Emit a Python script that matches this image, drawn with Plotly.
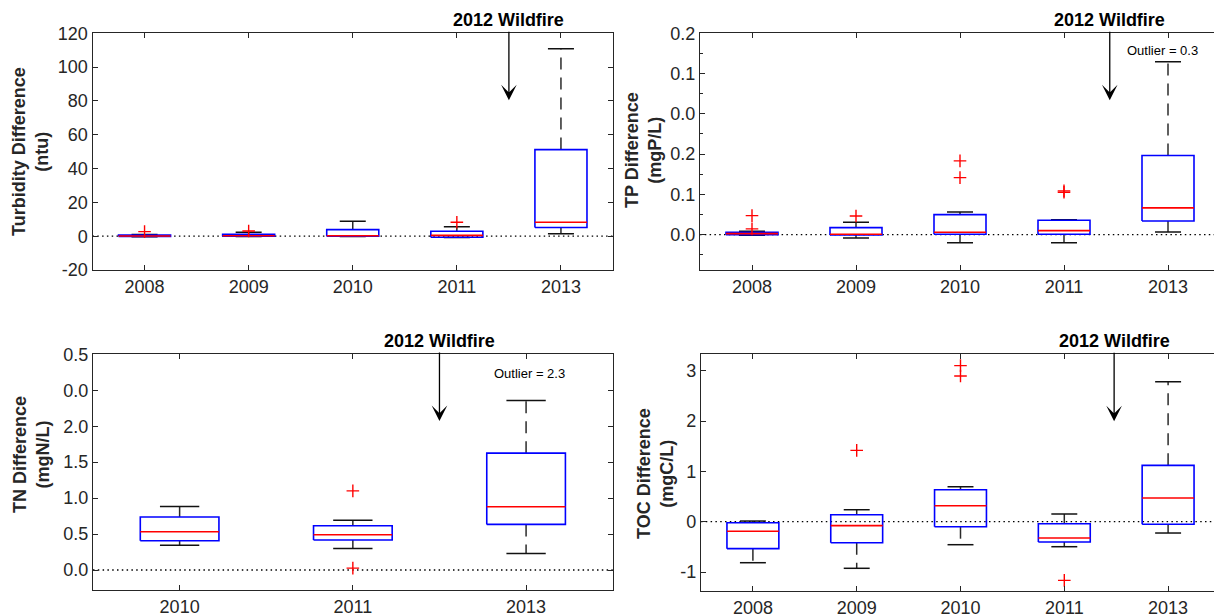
import plotly.graph_objects as go

# ---------------- data ----------------
YEARS_5 = ["2008", "2009", "2010", "2011", "2013"]
YEARS_3 = ["2010", "2011", "2013"]

# Turbidity difference (ntu)
TURB_LOW = [-0.3, -0.2, -0.2, -0.8, 1.5]
TURB_Q1 = [-0.1, 0.0, 0.0, -0.6, 5.1]
TURB_MED = [0.1, 0.3, 0.3, 0.5, 8.2]
TURB_Q3 = [0.6, 1.1, 3.9, 2.9, 51.2]
TURB_UP = [1.0, 2.3, 8.8, 5.6, 110.9]
TURB_OUT = [[2.7], [3.1], [], [8.2], []]
TURB_TICKS = [-20, 0, 20, 40, 60, 80, 100, 120]
TURB_TICKTEXT = ["-20", "0", "20", "40", "60", "80", "100", "120"]

# TP difference (mgP/L)
TP_LOW = [-0.0005, -0.0033, -0.0080, -0.0080, 0.0027]
TP_Q1 = [0.0, -0.0003, 0.0004, 0.0004, 0.0136]
TP_MED = [0.001, 0.0004, 0.0024, 0.0040, 0.0266]
TP_Q3 = [0.0024, 0.0070, 0.0199, 0.0143, 0.0786]
TP_UP = [0.0034, 0.0123, 0.0226, 0.0149, 0.1718]
TP_OUT = [[0.0057, 0.0189], [0.0186], [0.0567, 0.0733], [0.0421, 0.0435], []]
TP_TICKS = [0.0, 0.04, 0.08, 0.12, 0.16, 0.20]
TP_TICKTEXT = ["0.0", "0.1", "0.2", "0.0", "0.1", "0.2"]
TP_MINOR = [-0.02, 0.02, 0.06, 0.10, 0.14, 0.18]

# TN difference (mgN/L)
TN_LOW = [0.343, 0.298, 0.231]
TN_Q1 = [0.407, 0.417, 0.634]
TN_MED = [0.532, 0.490, 0.880]
TN_Q3 = [0.738, 0.616, 1.625]
TN_UP = [0.882, 0.692, 2.356]
TN_OUT = [[], [0.026, 1.10], []]
TN_TICKS = [0.0, 0.5, 1.0, 1.5, 2.0, 2.5, 3.0]
TN_TICKTEXT = ["0.0", "0.5", "1.0", "1.5", "2.0", "0.0", "0.5"]

# TOC difference (mgC/L)
TOC_LOW = [-0.815, -0.926, -0.457, -0.497, -0.225]
TOC_Q1 = [-0.536, -0.417, -0.099, -0.403, -0.052]
TOC_MED = [-0.19, -0.079, 0.318, -0.324, 0.471]
TOC_Q3 = [-0.02, 0.139, 0.636, -0.040, 1.12]
TOC_UP = [0.013, 0.238, 0.695, 0.153, 2.78]
TOC_OUT = [[], [1.418], [2.895, 3.10], [-1.165], []]
TOC_TICKS = [-1, 0, 1, 2, 3]
TOC_TICKTEXT = ["-1", "0", "1", "2", "3"]

WILDFIRE_X = [4.5, 4.44, 2.5, 4.48]  # 2012 position between categories

# ---------------- layout constants ----------------
W, H = 1222, 616
FONT = "Liberation Sans, Arial, Helvetica, sans-serif"
AX = "#262626"

panels = [
    dict(years=YEARS_5, low=TURB_LOW, q1=TURB_Q1, med=TURB_MED, q3=TURB_Q3, up=TURB_UP, out=TURB_OUT,
         yrange=[-20, 120], ticks=TURB_TICKS, ticktext=TURB_TICKTEXT, minor=None, half=0.25,
         xdom=[92.5, 613], ydom=[33.3, 270], title="Turbidity Difference<br>(ntu)", tpos=(31, 152),
         note=None),
    dict(years=YEARS_5, low=TP_LOW, q1=TP_Q1, med=TP_MED, q3=TP_Q3, up=TP_UP, out=TP_OUT,
         yrange=[-0.0351, 0.2], ticks=TP_TICKS, ticktext=TP_TICKTEXT, minor=TP_MINOR, half=0.25,
         xdom=[700, 1220], ydom=[33.3, 270], title="TP Difference<br>(mgP/L)", tpos=(644, 150),
         note=("Outlier = 0.3", 4.95, 0.929)),
    dict(years=YEARS_3, low=TN_LOW, q1=TN_Q1, med=TN_MED, q3=TN_Q3, up=TN_UP, out=TN_OUT,
         yrange=[-0.278, 3.0], ticks=TN_TICKS, ticktext=TN_TICKTEXT, minor=None, half=0.227,
         xdom=[93, 612.7], ydom=[354.3, 590], title="TN Difference<br>(mgN/L)", tpos=(31, 455),
         note=("Outlier = 2.3", 3.02, 0.919)),
    dict(years=YEARS_5, low=TOC_LOW, q1=TOC_Q1, med=TOC_MED, q3=TOC_Q3, up=TOC_UP, out=TOC_OUT,
         yrange=[-1.377, 3.326], ticks=TOC_TICKS, ticktext=TOC_TICKTEXT, minor=None, half=0.25,
         xdom=[701, 1220], ydom=[354.3, 591], title="TOC Difference<br>(mgC/L)", tpos=(656, 474),
         note=None),
]

fig = go.Figure()
layout = dict(
    width=W, height=H, margin=dict(l=0, r=0, t=0, b=0),
    paper_bgcolor="white", plot_bgcolor="white", showlegend=False,
    template="none", font=dict(family=FONT, color=AX),
    annotations=[], shapes=[],
)

for i, p in enumerate(panels):
    n = i + 1
    xa = "x" if n == 1 else f"x{n}"
    ya = "y" if n == 1 else f"y{n}"
    xs = list(range(1, len(p["years"]) + 1))
    h = p["half"]
    c = h / 2.0

    bx, by, mx, my, wx, wy, cx, cy, ox, oy = [], [], [], [], [], [], [], [], [], []
    for x, lo, q1, md, q3, up, outs in zip(xs, p["low"], p["q1"], p["med"], p["q3"], p["up"], p["out"]):
        bx += [x - h, x + h, x + h, x - h, x - h, None]
        by += [q1, q1, q3, q3, q1, None]
        mx += [x - h, x + h, None]
        my += [md, md, None]
        wx += [x, x, None, x, x, None]
        wy += [q3, up, None, q1, lo, None]
        cx += [x - c, x + c, None, x - c, x + c, None]
        cy += [up, up, None, lo, lo, None]
        for o in outs:
            ox.append(x)
            oy.append(o)

    common = dict(xaxis=xa, yaxis=ya, hoverinfo="skip", mode="lines")
    fig.add_trace(go.Scatter(x=wx, y=wy, line=dict(color="#2a2a2a", width=1.5, dash="12px,8px"), **common))
    fig.add_trace(go.Scatter(x=cx, y=cy, line=dict(color="#111111", width=1.5), **common))
    fig.add_trace(go.Scatter(x=bx, y=by, line=dict(color="#0000ff", width=1.6), **common))
    fig.add_trace(go.Scatter(x=mx, y=my, line=dict(color="#ff0000", width=1.6), **common))
    fig.add_trace(go.Scatter(x=ox, y=oy, mode="markers", xaxis=xa, yaxis=ya, hoverinfo="skip",
                             marker=dict(symbol="cross-thin", size=9, color="#ff0000",
                                         line=dict(color="#ff0000", width=1.4))))

    base = dict(showline=True, linecolor=AX, linewidth=1.2, mirror="ticks", ticks="inside",
                ticklen=5, tickwidth=1, tickcolor=AX, showgrid=False, zeroline=False,
                automargin=False, tickfont=dict(family=FONT, size=18, color=AX))
    xd = [p["xdom"][0] / W, p["xdom"][1] / W]
    yd = [1 - p["ydom"][1] / H, 1 - p["ydom"][0] / H]
    xaxis = dict(base, domain=xd, anchor=ya, range=[0.5, len(xs) + 0.5],
                 tickmode="array", tickvals=xs, ticktext=p["years"])
    yaxis = dict(base, domain=yd, anchor=xa, range=p["yrange"],
                 tickmode="array", tickvals=p["ticks"], ticktext=p["ticktext"])
    if p["minor"] is not None:
        yaxis["minor"] = dict(tickmode="array", tickvals=p["minor"], ticks="inside",
                              ticklen=3, tickcolor=AX, tickwidth=1)
    layout["xaxis" if n == 1 else f"xaxis{n}"] = xaxis
    layout["yaxis" if n == 1 else f"yaxis{n}"] = yaxis

    # zero reference line (dotted)
    layout["shapes"].append(dict(type="line", xref=f"{xa} domain", yref=ya, x0=0, x1=1, y0=0, y1=0,
                                 line=dict(color="black", width=1.3, dash="1.5px,3.3px"), layer="below"))

    # y-axis title
    layout["annotations"].append(dict(text=p["title"], xref="paper", yref="paper",
                                      x=p["tpos"][0] / W, y=1 - p["tpos"][1] / H,
                                      xanchor="center", yanchor="middle", textangle=-90, showarrow=False,
                                      font=dict(family=FONT, size=18, color=AX, weight="bold")))
    # wildfire arrow + label
    layout["annotations"].append(dict(text="2012 Wildfire", xref=xa, yref=f"{ya} domain",
                                      x=WILDFIRE_X[i], y=0.717, ax=0, ay=-80, axref="pixel", ayref="pixel",
                                      showarrow=True, arrowhead=3, arrowsize=2.0, arrowwidth=1.3,
                                      arrowcolor="black",
                                      font=dict(family=FONT, size=18, color="black", weight="bold")))
    if p["note"] is not None:
        t, nx, ny = p["note"]
        layout["annotations"].append(dict(text=t, xref=xa, yref=f"{ya} domain", x=nx, y=ny,
                                          xanchor="center", yanchor="middle", showarrow=False,
                                          font=dict(family=FONT, size=13, color="black")))

fig.update_layout(**layout)

fig.write_html("out.html", config={"displayModeBar": False}, post_script=(
    "document.body.style.margin='0';"
    "document.body.style.overflow='hidden';"
    "document.documentElement.style.overflow='hidden';"))
